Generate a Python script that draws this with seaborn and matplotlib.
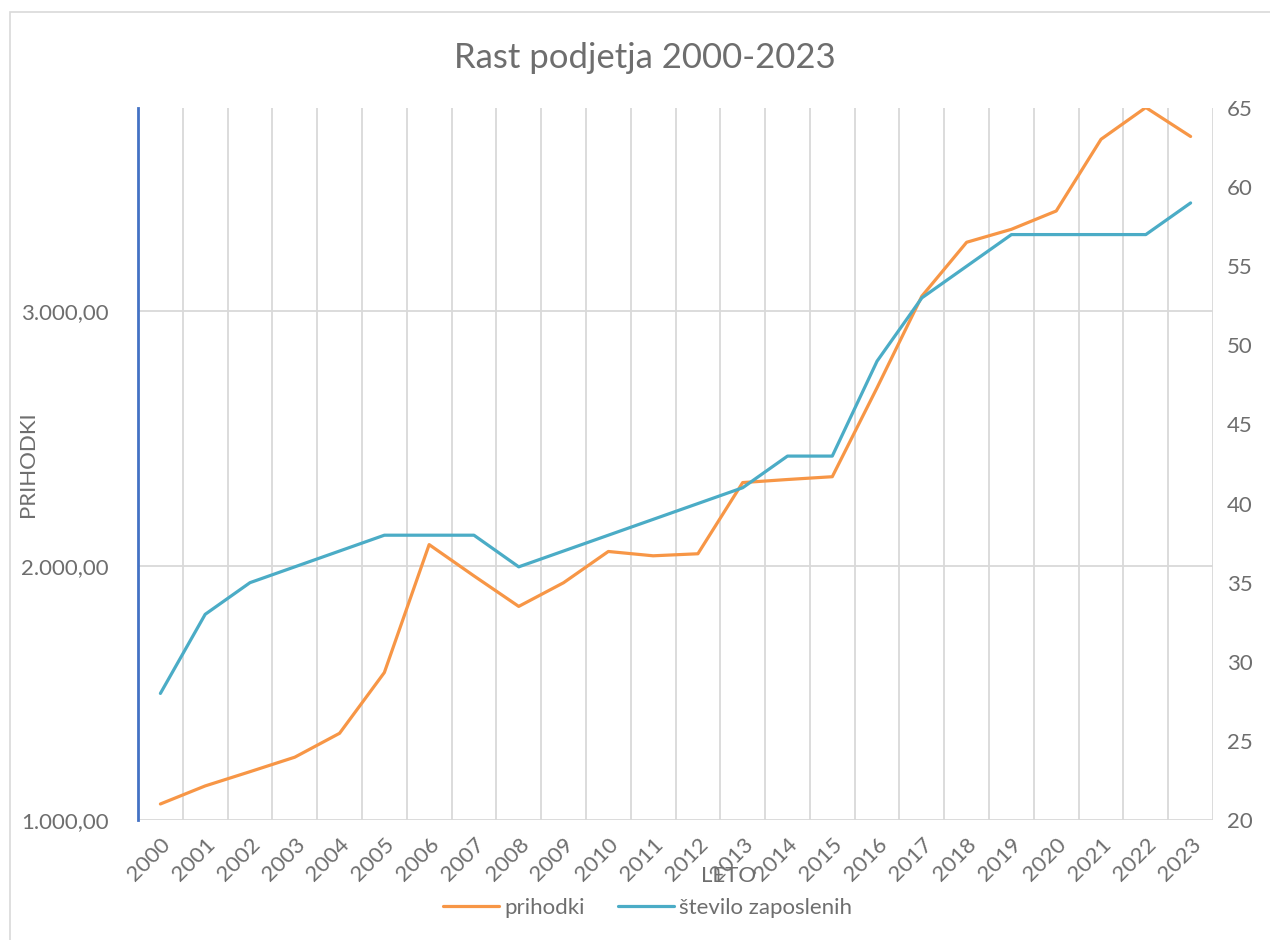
import numpy as np
import pandas as pd
import matplotlib
matplotlib.use("Agg")
import matplotlib.pyplot as plt
from matplotlib.ticker import FuncFormatter, FixedLocator
from matplotlib.patches import Rectangle
import seaborn as sns

leta = ["2000", "2001", "2002", "2003", "2004", "2005", "2006", "2007",
        "2008", "2009", "2010", "2011", "2012", "2013", "2014", "2015",
        "2016", "2017", "2018", "2019", "2020", "2021", "2022", "2023"]
prihodki = [1063, 1134, 1190, 1247, 1341, 1580, 2083, 1960,
            1840, 1933, 2056, 2039, 2047, 2327, 2339, 2350,
            2700, 3060, 3272, 3323, 3395, 3677, 3802, 3688]
zaposleni = [28, 33, 35, 36, 37, 38, 38, 38,
             36, 37, 38, 39, 40, 41, 43, 43,
             49, 53, 55, 57, 57, 57, 57, 59]
levi_ticki = [1000, 2000, 3000]
desni_ticki = [20, 25, 30, 35, 40, 45, 50, 55, 60, 65]

df = pd.DataFrame({"leto": leta, "prihodki": prihodki, "zaposleni": zaposleni})

sns.set_theme(style="white")
plt.rcParams["font.family"] = ["Lato", "DejaVu Sans"]
siva = "#6E6E6E"
oranzna = "#F79646"
modra = "#4BACC6"

fig = plt.figure(figsize=(12.7, 9.4), dpi=100)
ax = fig.add_axes([138 / 1270, 1 - 820 / 940, (1213 - 138) / 1270, (820 - 108) / 940])

sns.lineplot(data=df, x="leto", y="prihodki", ax=ax, color=oranzna, linewidth=2.3)
ax2 = ax.twinx()
sns.lineplot(data=df, x="leto", y="zaposleni", ax=ax2, color=modra, linewidth=2.3)

ax.set_xlim(-0.5, len(leta) - 0.5)
ax.set_ylim(1000, 3800)
ax2.set_ylim(20, 65)

ax.yaxis.set_major_locator(FixedLocator(levi_ticki))
ax.yaxis.set_major_formatter(FuncFormatter(
    lambda v, p: f"{v:,.2f}".replace(",", "X").replace(".", ",").replace("X", ".")))
ax2.yaxis.set_major_locator(FixedLocator(desni_ticki))

ax.set_xticks(np.arange(-0.5, len(leta), 1), minor=True)
ax.grid(False)
ax2.grid(False)
ax.grid(True, which="minor", axis="x", color="#D9D9D9", linewidth=1.3)
ax.grid(True, which="major", axis="y", color="#D9D9D9", linewidth=1.3)
ax.set_axisbelow(True)

for a in (ax, ax2):
    for s in a.spines.values():
        s.set_visible(False)
ax.spines["left"].set_visible(True)
ax.spines["left"].set_color("#4472C4")
ax.spines["left"].set_linewidth(2)

ax.tick_params(axis="y", length=0, pad=21, labelsize=16, labelcolor=siva)
ax2.tick_params(axis="y", length=0, pad=10, labelsize=16, labelcolor=siva)
ax.tick_params(axis="x", which="both", length=0, pad=10, labelsize=16, labelcolor=siva)
plt.setp(ax.get_xticklabels(), rotation=45, ha="right", rotation_mode="anchor")

ax.set_xlabel("LETO", fontsize=16, color=siva)
ax.xaxis.set_label_coords(0.549, -0.065)
ax.set_ylabel("PRIHODKI", fontsize=16, color=siva)
ax.yaxis.set_label_coords(-0.093, 0.5)
ax2.set_ylabel("")

fig.text(0.508, 1 - 58 / 940, "Rast podjetja 2000-2023", ha="center", va="center",
         fontsize=25, color=siva)

fig.legend([ax.lines[0], ax2.lines[0]], ["prihodki", "število zaposlenih"],
           loc="center", bbox_to_anchor=(0.510, 1 - 908 / 940), ncol=2,
           frameon=False, fontsize=16, labelcolor=siva, handlelength=2.5,
           columnspacing=1.5, handletextpad=0.25)

fig.patches.append(Rectangle((10 / 1270, -0.01), 1.0, 1 - 12 / 940 + 0.01,
                             transform=fig.transFigure, fill=False,
                             edgecolor="#D9D9D9", linewidth=1.2))

fig.savefig("out.png", dpi=100)
